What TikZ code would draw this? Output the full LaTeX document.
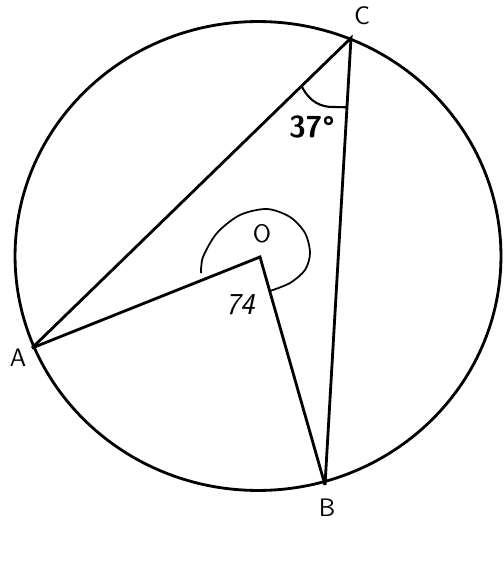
\documentclass[tikz,border=0pt]{standalone}
\usepackage{tikz}
\usetikzlibrary{calc}

\begin{document}
\begin{tikzpicture}[
    x=0.02cm, y=-0.02cm,
    edge/.style={line width=1.6pt, line join=miter},
    ptlabel/.style={font=\sffamily\Large, inner sep=0pt},
    anglabel/.style={font=\sffamily\bfseries\LARGE, inner sep=0pt},
    handlabel/.style={font=\sffamily\itshape\LARGE, inner sep=0pt}
  ]
    \useasboundingbox (0,0) rectangle (503,563);

    % points on the circle and the centre
    \coordinate (ctr) at (258,256);
    \coordinate (O) at (260,257);
    \coordinate (A) at (32,348);
    \coordinate (B) at (325,485);
    \coordinate (C) at (351,38);

    \draw[edge] (ctr) ellipse [x radius=4.86cm, y radius=4.69cm];

    \draw[edge] (A) -- (C) -- (B);
    \draw[edge] (A) -- (O) -- (B);

    % angle at C
    \draw[line width=1.2pt] ($(C)!0.155!(A)$) .. controls (310,103) and (322,107) .. (333,107) -- ($(C)!0.155!(B)$);

    % reflex angle at O
    \draw[line width=1pt] plot[smooth] coordinates {(201,273) (203,257) (217,233) (240,215) (267,209) (290,217) (305,233) (310,253) (305,270) (290,283) (270,291)};

    \node[ptlabel] (lC) at (362,16) {C};
    \node[ptlabel] (lA) at (18,358) {A};
    \node[ptlabel] (lB) at (327,508) {B};
    \node[ptlabel] (lO) at (262,234) {O};
    \node[anglabel] (l37) at (312,127) {37\textdegree};
    \node[handlabel] (l74) at (240,305) {74};
\end{tikzpicture}
\end{document}
